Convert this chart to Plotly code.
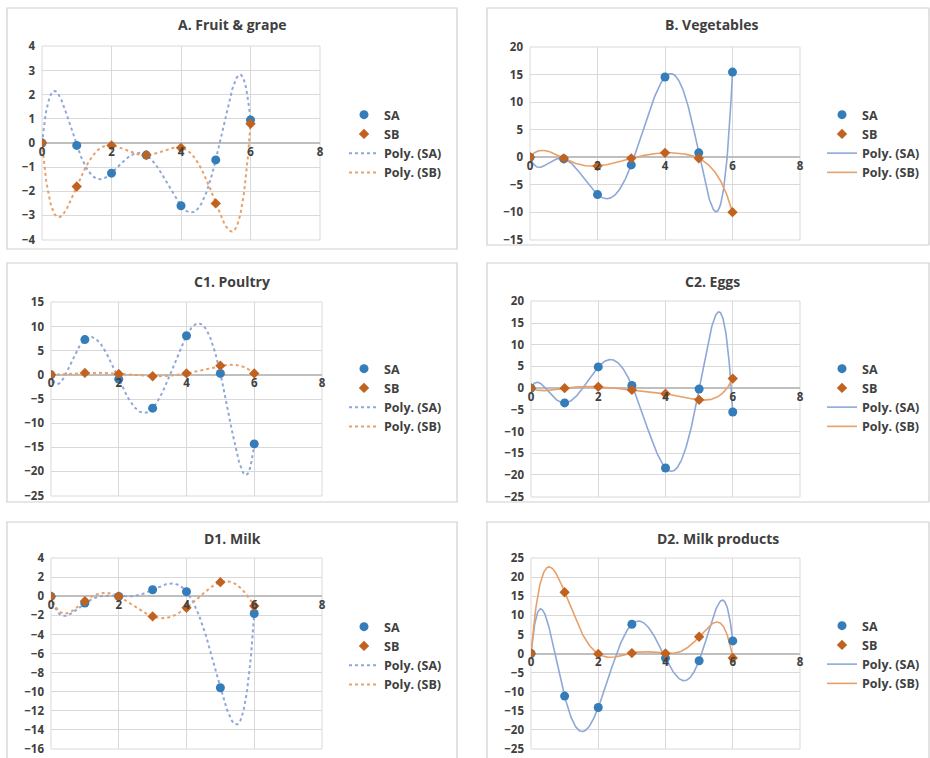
import numpy as np
import plotly.graph_objects as go

W, H = 930, 758

# ---------------- data ----------------
x_vals = [0, 1, 2, 3, 4, 5, 6]

titles = ["A. Fruit & grape", "B. Vegetables", "C1. Poultry",
          "C2. Eggs", "D1. Milk", "D2. Milk products"]

sa_A = [0, -0.1, -1.25, -0.5, -2.6, -0.7, 0.95]
sb_A = [0, -1.8, -0.1, -0.5, -0.2, -2.5, 0.8]

sa_B = [0, -0.3, -6.8, -1.4, 14.6, 0.8, 15.5]
sb_B = [0, -0.2, -1.6, -0.2, 0.8, -0.2, -10.0]

sa_C1 = [0, 7.3, -0.9, -6.9, 8.1, 0.3, -14.3]
sb_C1 = [0, 0.4, 0.2, -0.3, 0.3, 1.9, 0.3]

sa_C2 = [0, -3.4, 4.9, 0.6, -18.4, -0.2, -5.5]
sb_C2 = [0, 0.0, 0.3, -0.4, -1.3, -2.7, 2.2]

sa_D1 = [0, -0.7, 0.0, 0.7, 0.5, -9.6, -1.8]
sb_D1 = [0, -0.5, 0.0, -2.1, -1.2, 1.5, -1.0]

sa_D2 = [0, -11.2, -14.2, 7.7, -1.2, -1.9, 3.3]
sb_D2 = [0, 16.1, -0.1, 0.1, 0.0, 4.4, -1.2]

y_ranges = [(-4, 4, 1), (-15, 20, 5), (-25, 15, 5), (-25, 20, 5), (-16, 4, 2), (-25, 25, 5)]
x_tick_vals = [0, 2, 4, 6, 8]

sa_all = [sa_A, sa_B, sa_C1, sa_C2, sa_D1, sa_D2]
sb_all = [sb_A, sb_B, sb_C1, sb_C2, sb_D1, sb_D2]

# ---------------- layout geometry (pixels) ----------------
plot_px = [  # x0, x1, y0(top), y1(bottom)
    (42, 320, 46, 240),
    (530, 800, 47, 240),
    (51, 322, 302, 496),
    (531, 800, 301, 497),
    (51, 322, 558, 749),
    (531, 800, 558, 749),
]
panel_px = [
    (7, 457, 8, 249),
    (487, 929, 8, 245),
    (7, 457, 263, 502),
    (487, 929, 263, 502),
    (7, 457, 522, 760),
    (487, 929, 522, 760),
]
title_px = [(232, 25), (712, 25), (232, 281), (712, 281), (232, 538), (718, 538)]
legend_px = [(344, 100), (822, 100), (344, 354), (822, 354), (344, 612), (822, 611)]
dotted = [True, False, True, False, True, False]

SA_MK = "#347DB8"
SB_MK = "#C2621F"
SA_LN = "#8FA8D8"
SB_LN = "#E8A06A"
GRID = "#D9D9D9"
TXT = "#404040"
FONT = "Open Sans"

shapes = []
annotations = []
layout = {}
line_traces = []
marker_traces = []

xfine = np.linspace(min(x_vals), max(x_vals), 400)

for i in range(6):
    n = "" if i == 0 else str(i + 1)
    xa, ya = "x" + n, "y" + n
    lg = "legend" + n
    x0, x1, y0, y1 = plot_px[i]
    ymin, ymax, dt = y_ranges[i]
    eps = 0.002 * (ymax - ymin)
    r0, r1 = ymin - eps, ymax + eps
    ydom = [1 - y1 / H, 1 - y0 / H]
    pos = ydom[0] + (0 - r0) / (r1 - r0) * (ydom[1] - ydom[0])

    dash = "dot" if dotted[i] else "solid"
    lw = 2 if dotted[i] else 1.6

    sa, sb = sa_all[i], sb_all[i]
    ca = np.polyfit(x_vals, sa, 6)
    cb = np.polyfit(x_vals, sb, 6)

    marker_traces.append(go.Scatter(x=x_vals, y=sa, mode="markers", name="SA", legendrank=1,
                                    marker=dict(symbol="circle", size=9, color=SA_MK),
                                    xaxis=xa, yaxis=ya, legend=lg))
    marker_traces.append(go.Scatter(x=x_vals, y=sb, mode="markers", name="SB", legendrank=2,
                                    marker=dict(symbol="diamond", size=8, color=SB_MK),
                                    xaxis=xa, yaxis=ya, legend=lg))
    line_traces.append(go.Scatter(x=xfine, y=np.polyval(ca, xfine), mode="lines",
                                  name="Poly. (SA)", legendrank=3,
                                  line=dict(color=SA_LN, width=lw, dash=dash),
                                  xaxis=xa, yaxis=ya, legend=lg))
    line_traces.append(go.Scatter(x=xfine, y=np.polyval(cb, xfine), mode="lines",
                                  name="Poly. (SB)", legendrank=4,
                                  line=dict(color=SB_LN, width=lw, dash=dash),
                                  xaxis=xa, yaxis=ya, legend=lg))

    layout["xaxis" + n] = dict(domain=[x0 / W, x1 / W], range=[0, 8], tickvals=x_tick_vals,
                               showgrid=True, gridcolor=GRID, gridwidth=1,
                               zeroline=False, showline=False, ticks="",
                               anchor="free", position=pos, ticklabeloverflow="allow",
                               tickfont=dict(family=FONT, size=11.5, color=TXT, weight="bold"),
                               fixedrange=True)
    layout["yaxis" + n] = dict(domain=ydom, range=[r0, r1],
                               tickvals=list(range(ymin, ymax + 1, dt)),
                               showgrid=True, gridcolor=GRID, gridwidth=1,
                               zeroline=True, zerolinecolor="#BFBFBF", zerolinewidth=1.5,
                               showline=False, ticks="", anchor=xa,
                               ticklabelstandoff=6, ticklabeloverflow="allow",
                               tickfont=dict(family=FONT, size=11.5, color=TXT, weight="bold"),
                               fixedrange=True)
    # plot-area box
    shapes.append(dict(type="rect", xref=xa + " domain", yref=ya + " domain",
                       x0=0, x1=1, y0=0, y1=1, line=dict(color=GRID, width=1), layer="below"))
    # panel border
    px0, px1, py0, py1 = panel_px[i]
    shapes.append(dict(type="rect", xref="paper", yref="paper",
                       x0=px0 / W, x1=px1 / W, y0=1 - py1 / H, y1=1 - py0 / H,
                       line=dict(color="#D0D0D0", width=1.2)))
    tx, ty = title_px[i]
    annotations.append(dict(text=titles[i], xref="paper", yref="paper",
                            x=tx / W, y=1 - ty / H, xanchor="center", yanchor="middle",
                            showarrow=False,
                            font=dict(family=FONT, size=14, color=TXT, weight="bold")))
    lx, ly = legend_px[i]
    layout[lg] = dict(x=lx / W, y=1 - ly / H, xanchor="left", yanchor="top",
                      bgcolor="rgba(0,0,0,0)", borderwidth=0, tracegroupgap=0,
                      traceorder="normal",
                      font=dict(family=FONT, size=12.5, color=TXT, weight="bold"))

fig = go.Figure(data=line_traces + marker_traces)
fig.update_layout(width=W, height=H, margin=dict(l=0, r=0, t=0, b=0, autoexpand=False),
                  paper_bgcolor="white", plot_bgcolor="white",
                  shapes=shapes, annotations=annotations, showlegend=True,
                  **layout)

fig.write_html("out.html", config={"displayModeBar": False},
               post_script="document.body.style.margin='0';document.body.style.padding='0';"
                           "document.documentElement.style.overflow='hidden';")
